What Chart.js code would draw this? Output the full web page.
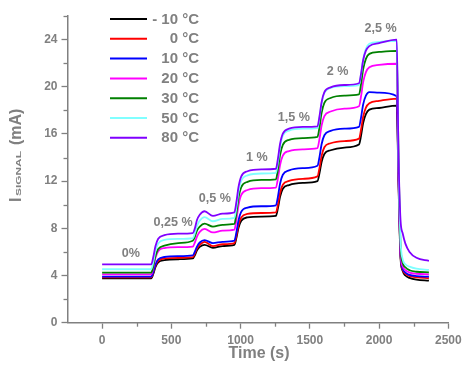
<!DOCTYPE html>
<html><head><meta charset="utf-8">
<script src="https://cdn.jsdelivr.net/npm/chart.js@4"></script>
<style>html,body{margin:0;padding:0;background:#fff;}</style>
</head><body>
<canvas id="c" width="462" height="372"></canvas>
<script>
// ---- data (time in s, current in mA) ----
const times = [0,355, 370,385,405,450,550,655, 670,685,705,740,800,870,955, 970,985,1005,1050,1150,1255, 1270,1285,1305,1350,1450,1555, 1570,1585,1605,1650,1750,1855, 1870,1885,1905,1930,2000,2128, 2140,2155,2170,2190,2220,2270,2360];

const seriesLabels = ['- 10 °C','0 °C','10 °C','20 °C','30 °C','50 °C','80 °C'];
const seriesColors = ['#000000','#ff0000','#0000ff','#ff00ff','#008000','#80ffff','#8000ff'];

const sM10 = [3.75,3.75, 4.15,4.71,5.11,5.30,5.38,5.45, 5.74,6.14,6.43,6.6,6.35,6.5,6.6, 7.2,8.04,8.64,8.93,9.0,9.05, 9.73,10.67,11.35,11.67,11.85,12.0, 12.68,13.62,14.3,14.62,14.85,15.1, 15.86,16.93,17.69,18.06,18.2,18.4, 12.0,5.5,4.4,4.0,3.8,3.65,3.56];
const s0   = [3.85,3.85, 4.26,4.84,5.25,5.45,5.5,5.55, 5.88,6.3,6.6,6.85,6.5,6.65,6.75, 7.39,8.28,8.92,9.22,9.3,9.35, 10.04,11.0,11.69,12.02,12.2,12.4, 13.13,14.14,14.87,15.21,15.4,15.6, 16.38,17.46,18.24,18.61,18.8,19.0, 12.3,5.7,4.5,4.15,3.95,3.85,3.77];
const s10  = [3.9,3.9, 4.33,4.93,5.36,5.57,5.64,5.7, 6.03,6.45,6.8,7.0,6.75,6.85,6.95, 7.68,8.69,9.42,9.76,9.87,9.95, 10.71,11.78,12.54,12.91,13.1,13.3, 14.06,15.13,15.89,16.26,16.45,16.6, 17.4,18.5,19.25,19.55,19.5,19.2, 12.6,5.8,4.6,4.25,4.05,3.95,3.9];
const s20  = [4.1,4.1, 4.68,5.48,6.06,6.33,6.4,6.45, 6.81,7.3,7.7,7.95,7.65,7.8,7.88, 8.75,9.96,10.83,11.25,11.4,11.45, 12.25,13.37,14.17,14.55,14.7,14.8, 15.6,16.72,17.52,17.9,18.15,18.35, 19.2,20.39,21.24,21.65,21.85,21.95, 13.5,6.0,4.8,4.45,4.25,4.15,4.1];
const s30  = [4.24,4.24, 4.83,5.66,6.25,6.53,6.75,6.95, 7.3,7.8,8.15,8.4,8.15,8.3,8.37, 9.29,10.58,11.5,11.94,12.1,12.15, 13.01,14.22,15.08,15.5,15.65,15.75, 16.6,17.79,18.64,19.05,19.25,19.35, 20.24,21.48,22.37,22.79,22.95,23.05, 14.5,6.6,5.1,4.7,4.45,4.32,4.27];
const s50  = [4.53,4.53, 5.17,6.07,6.71,7.02,7.1,7.16, 7.6,8.2,8.65,8.95,8.6,8.8,8.88, 9.81,11.11,12.04,12.49,12.65,12.7, 13.63,14.92,15.85,16.29,16.45,16.5, 17.38,18.6,19.48,19.9,20.05,20.15, 21.05,22.31,23.21,23.64,23.8,23.9, 14.0,7.0,5.4,4.95,4.75,4.58,4.47];
const s80  = [4.95,4.95, 5.59,6.48,7.12,7.42,7.55,7.6, 8.0,8.7,9.15,9.45,9.05,9.25,9.36, 10.26,11.51,12.41,12.84,13.0,13.05, 13.93,15.15,16.03,16.45,16.6,16.65, 17.5,18.69,19.54,19.95,20.15,20.3, 21.11,22.25,23.06,23.45,23.7,24.0, 14.5,8.7,7.6,6.7,6.0,5.5,5.25];
const seriesValues = [sM10,s0,s10,s20,s30,s50,s80];

const xTicks = [0,500,1000,1500,2000,2500];
const xMinor = [250,750,1250,1750,2250];
const yTicks = [0,4,8,12,16,20,24];
const yMinor = [2,6,10,14,18,22,26];

const stepLabels = ['0%','0,25 %','0,5 %','1 %','1,5 %','2 %','2,5 %'];
const stepLabelT = [207,512,814,1118,1385,1700,2011];
const stepLabelV = [5.83,8.5,10.5,14.0,17.36,21.3,24.9];

const xTitle = 'Time (s)';
const yTitleMain = 'I', yTitleSub = 'SIGNAL', yTitleUnit = '(mA)';

// ---- style ----
const INK = '#808080';
const FONT = '"Liberation Sans", Arial, Helvetica, sans-serif';

const datasets = seriesValues.map((vals, i) => ({
  label: seriesLabels[i],
  data: times.map((t, k) => ({x: t, y: vals[k]})),
  borderColor: seriesColors[i],
  backgroundColor: seriesColors[i],
  borderWidth: 1.8,
  pointRadius: 0,
  fill: false,
  cubicInterpolationMode: 'monotone',
  order: seriesValues.length - 1 - i
}));

const decor = {
  id: 'decor',
  afterDraw(chart) {
    const ctx = chart.ctx, xs = chart.scales.x, ys = chart.scales.y;
    ctx.save();
    // minor ticks
    ctx.strokeStyle = INK; ctx.lineWidth = 1.3;
    xMinor.forEach(v => {
      const px = Math.round(xs.getPixelForValue(v)) + 0.5;
      ctx.beginPath(); ctx.moveTo(px, ys.bottom); ctx.lineTo(px, ys.bottom + 4); ctx.stroke();
    });
    yMinor.forEach(v => {
      const py = Math.round(ys.getPixelForValue(v)) + 0.5;
      ctx.beginPath(); ctx.moveTo(xs.left, py); ctx.lineTo(xs.left - 4, py); ctx.stroke();
    });
    // step annotations
    ctx.fillStyle = INK;
    ctx.font = 'bold 12.6px ' + FONT;
    ctx.textAlign = 'center'; ctx.textBaseline = 'middle';
    stepLabels.forEach((s, i) => {
      ctx.fillText(s, xs.getPixelForValue(stepLabelT[i]), ys.getPixelForValue(stepLabelV[i]));
    });
    // legend
    ctx.font = 'bold 15px ' + FONT;
    ctx.textAlign = 'right';
    seriesLabels.forEach((s, i) => {
      const y = 19 + i * 19.8;
      ctx.strokeStyle = seriesColors[i]; ctx.lineWidth = 2;
      ctx.beginPath(); ctx.moveTo(110, y); ctx.lineTo(147, y); ctx.stroke();
      ctx.fillStyle = INK;
      ctx.fillText(s, 199, y + 0.5);
    });
    // x title
    ctx.textAlign = 'center'; ctx.textBaseline = 'alphabetic';
    ctx.font = 'bold 16px ' + FONT;
    ctx.fillText(xTitle, 259, 358);
    // y title (rotated, with subscript)
    ctx.translate(21, 202);
    ctx.rotate(-Math.PI / 2);
    ctx.textAlign = 'left';
    ctx.font = 'bold 16px ' + FONT;
    ctx.fillText(yTitleMain, 0, 0);
    ctx.save();
    ctx.font = 'bold 7px ' + FONT;
    const w = ctx.measureText(yTitleSub).width;
    ctx.translate(6, 0);
    ctx.scale(45 / w, 1);
    ctx.fillText(yTitleSub, 0, 0);
    ctx.restore();
    ctx.font = 'bold 16px ' + FONT;
    ctx.fillText(yTitleUnit, 57, 0);
    ctx.restore();
  }
};

const plain = v => String(v);
const noPad = s => { s.paddingLeft = 0; s.paddingRight = 0; s.paddingTop = 0; s.paddingBottom = 0; };

new Chart(document.getElementById('c'), {
  type: 'line',
  data: { datasets },
  options: {
    responsive: false,
    animation: false,
    devicePixelRatio: 1,
    layout: { padding: { left: 0, right: 13.7, top: 16, bottom: 0 } },
    plugins: { legend: { display: false }, tooltip: { enabled: false } },
    scales: {
      x: {
        type: 'linear', min: -250, max: 2500,
        afterBuildTicks: s => { s.ticks = xTicks.map(v => ({ value: v })); },
        afterFit: s => { s.height = 49.3; noPad(s); },
        grid: { drawOnChartArea: false, drawTicks: true, tickLength: 6, tickColor: INK, tickWidth: 1.3 },
        border: { display: true, color: INK, width: 1.5 },
        ticks: { color: INK, font: { family: FONT, size: 12, weight: 'bold' }, padding: 5, maxRotation: 0, autoSkip: false, callback: plain },
        title: { display: false }
      },
      y: {
        type: 'linear', min: 0, max: 26,
        afterBuildTicks: s => { s.ticks = yTicks.map(v => ({ value: v })); },
        afterFit: s => { s.width = 67.5; noPad(s); },
        grid: { drawOnChartArea: false, drawTicks: true, tickLength: 6, tickColor: INK, tickWidth: 1.3 },
        border: { display: true, color: INK, width: 1.5 },
        ticks: { color: INK, font: { family: FONT, size: 12, weight: 'bold' }, padding: 4, autoSkip: false, callback: plain },
        title: { display: false }
      }
    }
  },
  plugins: [decor]
});
</script>
</body></html>
